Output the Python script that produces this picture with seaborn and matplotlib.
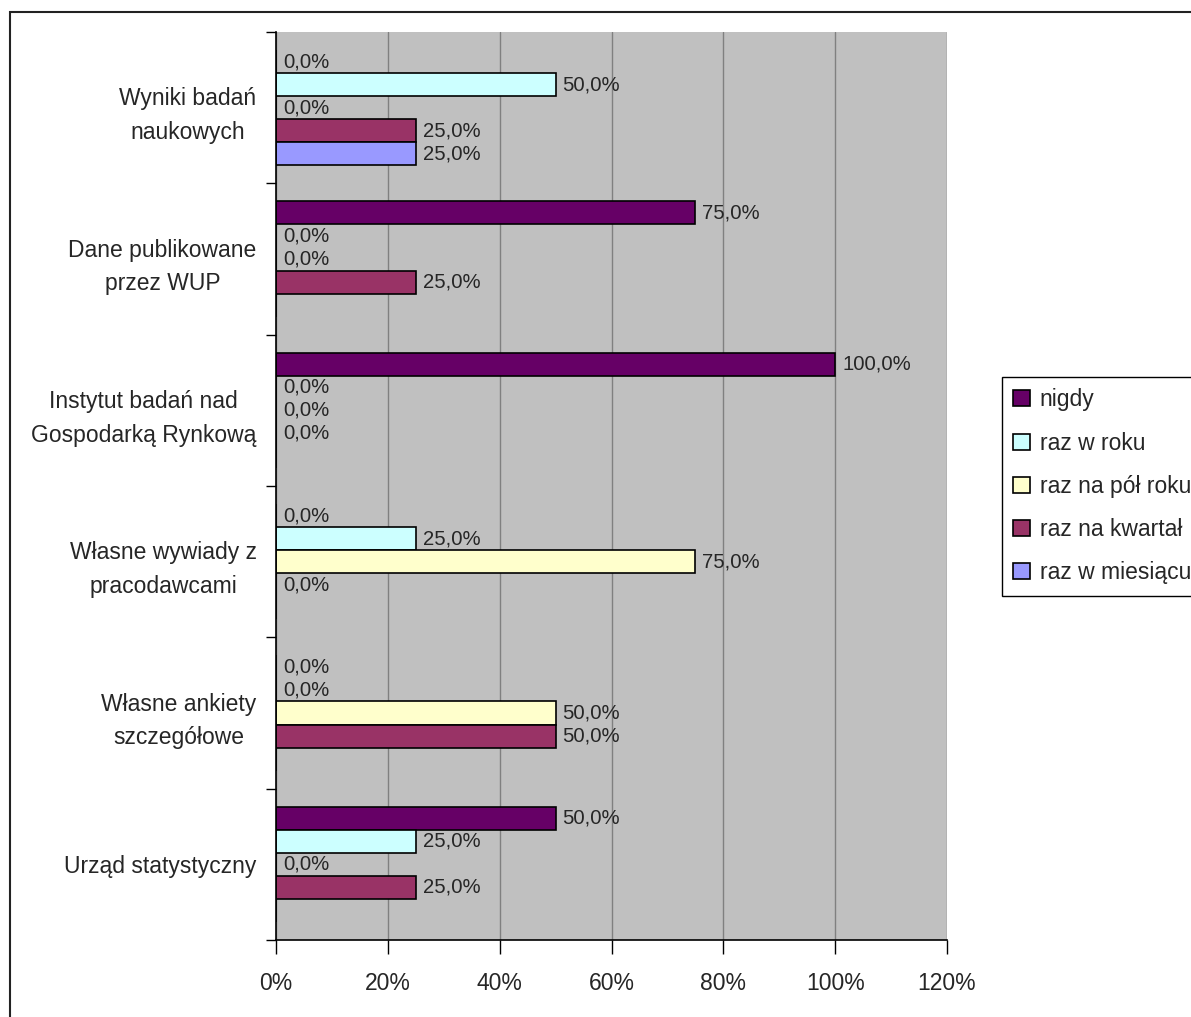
import numpy as np
import pandas as pd
import matplotlib
matplotlib.use("Agg")
import matplotlib.pyplot as plt
import seaborn as sns
from matplotlib.patches import Rectangle, Patch

categories = ["Wyniki badań\nnaukowych", "Dane publikowane\nprzez WUP",
              "Instytut badań nad\nGospodarką Rynkową", "Własne wywiady z\npracodawcami",
              "Własne ankiety\nszczegółowe", "Urząd statystyczny"]
series = ["nigdy", "raz w roku", "raz na pół roku", "raz na kwartał", "raz w miesiącu"]
nigdy = [0.0, 75.0, 100.0, 0.0, 0.0, 50.0]
raz_w_roku = [50.0, 0.0, 0.0, 25.0, 0.0, 25.0]
raz_na_pol_roku = [0.0, 0.0, 0.0, 75.0, 50.0, 0.0]
raz_na_kwartal = [25.0, 25.0, 0.0, 0.0, 50.0, 25.0]
raz_w_miesiacu = [25.0, np.nan, np.nan, np.nan, np.nan, np.nan]
colors = ["#660066", "#CCFFFF", "#FFFFCC", "#993366", "#9999FF"]
xticks = [0, 20, 40, 60, 80, 100, 120]

values = [nigdy, raz_w_roku, raz_na_pol_roku, raz_na_kwartal, raz_w_miesiacu]
rows = []
for s, vals in zip(series, values):
    for c, v in zip(categories, vals):
        rows.append({"cat": c, "series": s, "value": v, "plot": 0.0 if np.isnan(v) else v})
df = pd.DataFrame(rows)

sns.set_style("white")
plt.rcParams['font.family'] = ['Liberation Sans', 'DejaVu Sans']

fig = plt.figure(figsize=(11.91, 10.17), dpi=100)
ax = fig.add_axes([276/1191, 1-940/1017, (947-276)/1191, (940-32)/1017])
ax.set_facecolor("#C0C0C0")

sns.barplot(data=df, y="cat", x="plot", hue="series", order=categories,
            hue_order=series, palette=colors, orient="h", width=0.76,
            edgecolor="black", linewidth=1.2, legend=False, ax=ax, errorbar=None,
            saturation=1)

ax.set_xlim(0, 120)
ax.set_ylim(len(categories) - 0.5, -0.5)
ax.set_xticks(xticks)
ax.set_xticklabels([f"{t}%" for t in xticks], fontsize=16.5)
ax.tick_params(axis="x", direction="out", length=10, width=1, color="black", pad=13, bottom=True)
ax.grid(axis="x", color="#808080", linewidth=1)
ax.set_axisbelow(True)

ax.set_yticks(range(len(categories)))
ax.set_yticklabels(categories, fontsize=16.5, multialignment="center", linespacing=1.6)
ax.tick_params(axis="y", which="major", length=0, pad=14)
ax.set_yticks(np.arange(-0.5, len(categories), 1.0), minor=True)
ax.tick_params(axis="y", which="minor", direction="out", length=7, width=1, color="black", left=True)
ax.set_xlabel("")
ax.set_ylabel("")

for sp in ["top", "right"]:
    ax.spines[sp].set_visible(False)
for sp in ["left", "bottom"]:
    ax.spines[sp].set_color("black")
    ax.spines[sp].set_linewidth(1.2)

# data labels
for cont, vals in zip(ax.containers, values):
    for bar, v in zip(cont, vals):
        if np.isnan(v):
            continue
        y = bar.get_y() + bar.get_height() / 2
        ax.annotate(f"{v:.1f}%".replace(".", ","), (v, y), xytext=(5, 0),
                    textcoords="offset points", va="center", ha="left", fontsize=14.6,
                    annotation_clip=False)

# legend
handles = [Patch(facecolor=c, edgecolor="black", linewidth=1.2) for c in colors]
leg = fig.legend(handles, series, loc="upper left",
                 bbox_to_anchor=(1002/1191, 1-377/1017), fontsize=16.5,
                 frameon=True, fancybox=False, edgecolor="black", framealpha=1,
                 handlelength=0.7, handleheight=0.7, handletextpad=0.45,
                 labelspacing=0.88, borderpad=0.5, borderaxespad=0)
leg.get_frame().set_linewidth(1.0)

# outer frame
fig.patches.append(Rectangle((10/1191, -0.05), 1.2, 1-12/1017 + 0.05,
                             transform=fig.transFigure, fill=False,
                             edgecolor="#222222", linewidth=1.5, zorder=-1))

fig.savefig("out.png", dpi=100, facecolor="white")
